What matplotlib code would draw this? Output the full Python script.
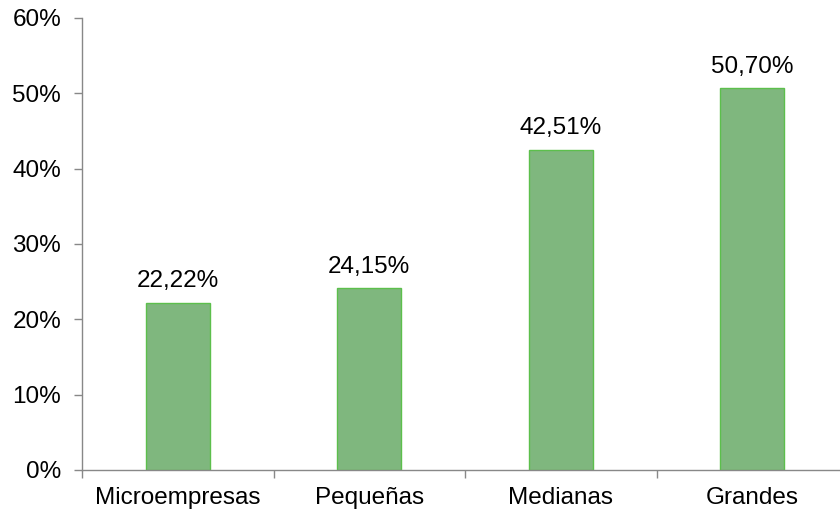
import matplotlib.pyplot as plt
import numpy as np

categorias = ['Microempresas', 'Pequeñas', 'Medianas', 'Grandes']
valores = [22.22, 24.15, 42.51, 50.70]
etiquetas = ['22,22%', '24,15%', '42,51%', '50,70%']
yticks = [0, 10, 20, 30, 40, 50, 60]

plt.rcParams['font.family'] = ['Liberation Sans', 'DejaVu Sans']
fs = 17.5

fig = plt.figure(figsize=(8.4, 5.09), dpi=100)
ax = fig.add_axes([82/840, 39/509, 766/840, 452/509])

x = np.arange(len(categorias))
ax.bar(x, valores, width=0.334, color='#7fb77e', edgecolor='#5cbf4c', linewidth=1)
for xi, v, t in zip(x, valores, etiquetas):
    ax.text(xi, v + 1.4, t, ha='center', va='bottom', fontsize=fs)

ax.set_xlim(-0.5, 3.5)
ax.set_ylim(0, 60)
ax.set_yticks(yticks)
ax.set_yticklabels([f'{t}%' for t in yticks], fontsize=fs)
ax.set_xticks(x)
ax.set_xticklabels(categorias, fontsize=fs)
ax.set_xticks(np.arange(-0.5, 4, 1), minor=True)
ax.tick_params(axis='x', which='major', length=0, pad=12)
ax.tick_params(axis='x', which='minor', length=6, color='#888888', width=1)
ax.tick_params(axis='y', length=6, color='#888888', width=1, pad=9)

for s in ['top', 'right']:
    ax.spines[s].set_visible(False)
for s in ['left', 'bottom']:
    ax.spines[s].set_color('#888888')
    ax.spines[s].set_linewidth(1)

fig.savefig('out.png', dpi=100)
